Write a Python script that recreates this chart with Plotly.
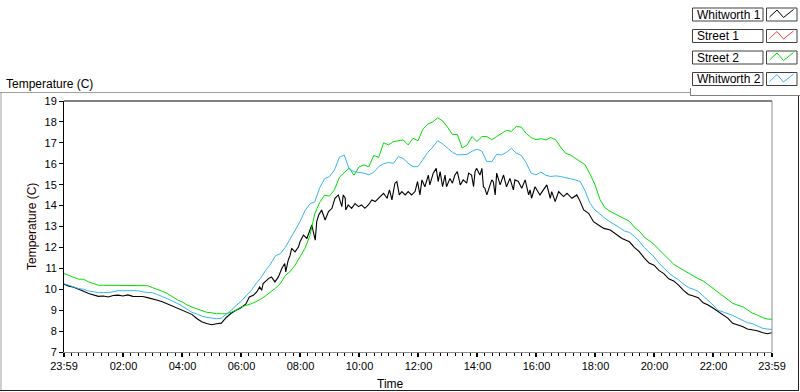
import plotly.graph_objects as go

# ---------------- data ----------------
# common sampling (minutes after 23:59) for the smoother series
TIME_MIN = list(range(0, 1441, 10))

# Whitworth 1 is noisy: read at irregular times
WHITWORTH_1_TIME = [
    0, 10, 20, 30, 40, 50, 60, 70, 80, 90,
    100, 110, 120, 130, 140, 150, 160, 170, 180, 190,
    200, 210, 220, 230, 240, 250, 260, 270, 280, 290,
    300, 310, 320, 330, 340, 350, 360, 370,
    377, 385, 392, 398, 402, 405, 416, 422, 429, 436,
    443, 449, 451, 456, 460, 463, 470, 477, 480, 487,
    494, 504, 511, 514, 518, 524, 531, 538, 545, 551,
    558, 562, 565, 568, 572, 573, 578, 585, 592, 599,
    605, 612, 619, 626, 633, 643, 650, 657, 662, 667,
    673, 677, 682, 687, 694, 700, 707, 714, 719, 724,
    728, 734, 741, 744, 751, 757, 761, 765, 770, 775,
    778, 785, 790, 795, 800, 806, 812, 819, 823, 829,
    833, 836, 839, 846, 850, 853, 856, 860, 870, 873,
    877, 880, 887, 894, 900, 907, 914, 917, 924, 931,
    938, 945, 948, 951, 958, 968, 982, 989, 992, 999,
    1006, 1016, 1023, 1033, 1043, 1050, 1057, 1067, 1077, 1087,
    1098, 1111, 1125, 1135, 1142,
    1150, 1160, 1170, 1180, 1190, 1200, 1210, 1220, 1230, 1240,
    1250, 1260, 1270, 1280, 1290, 1300, 1310, 1320, 1330, 1340,
    1350, 1360, 1370, 1380, 1390, 1400, 1410, 1420, 1430, 1440,
]
WHITWORTH_1 = [
    10.24, 10.15, 10.1, 9.98, 9.9, 9.8, 9.74, 9.66, 9.68, 9.63,
    9.70, 9.72, 9.68, 9.73, 9.66, 9.67, 9.65, 9.6, 9.55, 9.47,
    9.4, 9.3, 9.2, 9.1, 9.02, 8.93, 8.8, 8.6, 8.45, 8.36,
    8.3, 8.35, 8.38, 8.65, 8.85, 9.0, 9.12, 9.3,
    9.63, 9.71, 9.87, 10.11, 9.95, 10.27, 10.51, 10.59, 10.35, 10.59,
    10.99, 11.23, 10.83, 11.39, 11.63, 11.95, 11.79, 12.03, 12.27, 12.59,
    12.43, 13.07, 12.35, 13.23, 13.55, 13.79, 13.31, 13.71, 13.87, 14.35,
    14.51, 14.19, 13.95, 14.51, 14.35, 13.79, 14.03, 13.87, 14.1, 13.95,
    14.03, 13.87, 14.03, 14.27, 14.19, 14.43, 14.59, 14.35, 14.75, 14.27,
    15.07, 15.15, 14.51, 14.67, 14.51, 14.67, 14.51, 14.67, 15.15, 14.51,
    15.23, 14.9, 15.46, 14.99, 15.55, 15.78, 15.15, 15.62, 14.9, 15.46,
    14.9, 15.3, 15.07, 15.46, 15.62, 14.99, 15.23, 15.07, 15.55, 15.46,
    14.9, 15.62, 15.78, 15.46, 15.78, 14.9, 14.83, 14.51, 15.23, 15.15,
    14.51, 15.55, 14.99, 15.46, 14.9, 15.3, 14.75, 15.23, 15.15, 14.83,
    15.23, 14.51, 14.75, 14.35, 14.9, 14.51, 14.99, 14.35, 14.67, 14.19,
    14.67, 14.43, 14.59, 14.35, 14.51, 14.19, 13.79, 13.63, 13.23, 13.07,
    12.91, 12.83, 12.59, 12.43, 12.35,
    12.27, 12.0, 11.8, 11.5, 11.25, 11.15, 10.9, 10.75, 10.5, 10.4,
    10.2, 9.95, 9.75, 9.68, 9.6, 9.35, 9.25, 9.1, 8.95, 8.8,
    8.62, 8.37, 8.3, 8.22, 8.1, 8.05, 8.02, 7.93, 7.87, 7.92,
]

STREET_1_TIME = []
STREET_1 = []   # no visible data in the chart

STREET_2 = [
    10.75, 10.67, 10.56, 10.48, 10.48, 10.35, 10.27, 10.19, 10.19, 10.19,
    10.19, 10.19, 10.19, 10.19, 10.19, 10.19, 10.19, 10.17, 10.08, 10.0,
    9.9, 9.8, 9.65, 9.5, 9.4, 9.25, 9.15, 9.07, 8.98, 8.9,
    8.88, 8.83, 8.83, 8.83, 8.9, 9.0, 9.15, 9.22, 9.3, 9.4,
    9.52, 9.68, 9.85, 10.05, 10.27, 10.65, 10.85, 11.15, 11.55, 11.95,
    12.55, 13.6, 14.15, 14.5, 14.45, 14.75, 15.35, 15.6, 15.8, 15.45,
    15.85, 15.94, 15.86, 16.4, 16.3, 17.0, 16.9, 17.06, 17.1, 17.14,
    16.9, 17.22, 17.1, 17.65, 17.9, 18.0, 18.2, 18.05, 17.75, 17.4,
    17.4, 16.75, 16.9, 17.3, 17.06, 17.3, 17.3, 17.15, 17.3, 17.45,
    17.6, 17.55, 17.78, 17.75, 17.45, 17.25, 17.15, 17.2, 17.14, 17.25,
    17.15, 16.8, 16.5, 16.42, 16.26, 16.1, 15.95, 15.5, 15.0, 14.3,
    13.9, 13.73, 13.6, 13.5, 13.37, 13.25, 12.97, 12.78, 12.5, 12.32,
    12.15, 11.9, 11.65, 11.4, 11.2, 11.05, 10.91, 10.75, 10.63, 10.5,
    10.4, 10.22, 10.08, 9.88, 9.68, 9.5, 9.33, 9.24, 9.17, 9.02,
    8.86, 8.77, 8.65, 8.58, 8.56,
]

WHITWORTH_2 = [
    10.27, 10.2, 10.1, 10.03, 10.0, 9.92, 9.88, 9.84, 9.84, 9.84,
    9.88, 9.93, 9.93, 9.93, 9.93, 9.93, 9.88, 9.84, 9.84, 9.76,
    9.65, 9.55, 9.45, 9.33, 9.2, 9.07, 8.9, 8.82, 8.72, 8.66,
    8.62, 8.59, 8.62, 8.8, 9.0, 9.22, 9.42, 9.68, 9.92, 10.25,
    10.53, 10.9, 11.2, 11.6, 11.7, 12.0, 12.4, 12.8, 13.23, 13.75,
    14.08, 14.18, 14.85, 15.28, 15.39, 15.7, 16.3, 16.42, 15.75, 15.62,
    15.6, 15.55, 15.47, 15.6, 15.86, 16.0, 16.06, 16.02, 16.34, 16.25,
    16.02, 15.86, 15.86, 16.2, 16.55, 16.8, 17.1, 16.95, 16.75, 16.55,
    16.42, 16.45, 16.45, 16.6, 16.7, 16.6, 16.1, 16.1, 16.45, 16.42,
    16.55, 16.74, 16.5, 16.4, 16.05, 15.55, 15.47, 15.6, 15.45, 15.39,
    15.42, 15.39, 15.35, 15.28, 15.23, 15.15, 14.7, 14.1, 13.79, 13.58,
    13.4, 13.23, 13.1, 12.95, 12.78, 12.72, 12.53, 12.3, 12.0, 11.77,
    11.55, 11.25, 11.0, 10.78, 10.6, 10.45, 10.25, 10.08, 10.0, 9.9,
    9.68, 9.47, 9.25, 9.0, 8.92, 8.86, 8.75, 8.63, 8.5, 8.4,
    8.36, 8.25, 8.14, 8.1, 8.08,
]

SERIES_NAMES = ["Whitworth 1", "Street 1", "Street 2", "Whitworth 2"]
SERIES_COLORS = ["#000000", "#ff3c3c", "#00e000", "#38b6f2"]

X_TICK_MINUTES = [0, 121, 241, 361, 481, 601, 721, 841, 961, 1081, 1201, 1321, 1440]
X_TICK_LABELS = ["23:59", "02:00", "04:00", "06:00", "08:00", "10:00", "12:00",
                 "14:00", "16:00", "18:00", "20:00", "22:00", "23:59"]
Y_TICKS = [7, 8, 9, 10, 11, 12, 13, 14, 15, 16, 17, 18, 19]

TITLE = "Temperature (C)"
Y_TITLE = "Temperature (C)"
X_TITLE = "Time"

# ---------------- layout geometry ----------------
W, H = 800, 392
ML, MR, MT, MB = 64, 28, 101, 40
PW, PH = W - ML - MR, H - MT - MB


def px(x):
    return (x - ML) / PW


def py(y):
    return (H - MB - y) / PH


FONT = "Liberation Sans, Arial, sans-serif"

fig = go.Figure()
series = [
    (WHITWORTH_1_TIME, WHITWORTH_1, 1.1),
    (STREET_1_TIME, STREET_1, 1),
    (TIME_MIN, STREET_2, 1),
    (TIME_MIN, WHITWORTH_2, 1),
]
for name, (tt, vals, w), col in zip(SERIES_NAMES, series, SERIES_COLORS):
    fig.add_trace(go.Scatter(
        x=tt, y=vals, mode="lines", name=name,
        line=dict(color=col, width=w), showlegend=False, hoverinfo="skip",
    ))

# minor ticks: 8 subdivisions between consecutive major ticks
minor_vals = []
for a, b in zip(X_TICK_MINUTES[:-1], X_TICK_MINUTES[1:]):
    for k in range(1, 8):
        minor_vals.append(a + (b - a) * k / 8)

shapes = []


def line(x0, y0, x1, y1, color, width=1):
    shapes.append(dict(type="line", xref="paper", yref="paper",
                       x0=px(x0), y0=py(y0), x1=px(x1), y1=py(y1),
                       line=dict(color=color, width=width)))


def rect(x0, y0, x1, y1, color, width=1, fill="white"):
    shapes.append(dict(type="rect", xref="paper", yref="paper",
                       x0=px(x0), y0=py(y0), x1=px(x1), y1=py(y1),
                       line=dict(color=color, width=width), fillcolor=fill))


# plot frame: top black, right gray
line(ML, MT, W - MR, MT, "#000000", 1)
line(W - MR, MT, W - MR, H - MB, "#8c8c8c", 1)

# outer panel frame
line(0, 92.5, 690, 92.5, "#a0a0a0", 1)
line(1, 92.5, 1, 390.5, "#a0a0a0", 1)
line(0, 390.5, 799, 390.5, "#202020", 1)
line(798.5, 95.5, 798.5, 390.5, "#202020", 1)
line(690, 95.5, 800, 95.5, "#808080", 1)
line(690.5, 88, 690.5, 95.5, "#808080", 1)

annotations = []

# legend (LabVIEW-style)
row_tops = [8, 29.5, 51, 72.5]
for name, col, y0 in zip(SERIES_NAMES, SERIES_COLORS, row_tops):
    rect(692.5, y0, 763, y0 + 13, "#404040", 1)
    rect(766.5, y0, 797, y0 + 13, "#404040", 1)
    pts = [(769.5, y0 + 9), (777, y0 + 2), (783.5, y0 + 9.5), (793.5, y0 + 1.5)]
    path = "M " + " L ".join(f"{px(a)},{py(b)}" for a, b in pts)
    shapes.append(dict(type="path", xref="paper", yref="paper", path=path,
                       line=dict(color=col, width=1)))
    annotations.append(dict(x=px(695), y=py(y0 + 6.8), xref="paper", yref="paper",
                            text=name, showarrow=False, xanchor="left", yanchor="middle",
                            font=dict(family=FONT, size=12, color="#000")))

annotations.append(dict(x=px(4), y=py(83.5), xref="paper", yref="paper", text=TITLE,
                        showarrow=False, xanchor="left", yanchor="middle",
                        font=dict(family=FONT, size=12, color="#000")))
annotations.append(dict(x=px(32), y=py(227), xref="paper", yref="paper", text=Y_TITLE,
                        showarrow=False, xanchor="center", yanchor="middle", textangle=-90,
                        font=dict(family=FONT, size=12, color="#1a0000")))
annotations.append(dict(x=px(390), y=py(384), xref="paper", yref="paper", text=X_TITLE,
                        showarrow=False, xanchor="center", yanchor="middle",
                        font=dict(family=FONT, size=12, color="#000")))

fig.update_layout(
    width=W, height=H,
    margin=dict(l=ML, r=MR, t=MT, b=MB, pad=0),
    paper_bgcolor="white", plot_bgcolor="white",
    showlegend=False, hovermode=False,
    shapes=shapes, annotations=annotations,
    xaxis=dict(
        range=[0, 1440], tickmode="array", tickvals=X_TICK_MINUTES, ticktext=X_TICK_LABELS,
        showline=True, linecolor="#8c8c8c", linewidth=1,
        ticks="outside", ticklen=4, tickwidth=2, tickcolor="#000",
        showgrid=False, zeroline=False,
        tickfont=dict(family=FONT, size=11, color="#000"),
        minor=dict(tickmode="array", tickvals=minor_vals, ticks="outside",
                   ticklen=3, tickwidth=1, tickcolor="#000", showgrid=False),
    ),
    yaxis=dict(
        range=[7, 19], tickmode="array", tickvals=Y_TICKS,
        showline=True, linecolor="#000", linewidth=1,
        ticks="outside", ticklen=4, tickwidth=1, tickcolor="#000",
        showgrid=False, zeroline=False,
        tickfont=dict(family=FONT, size=11, color="#000"),
    ),
)

fig.write_html("out.html", config={"displayModeBar": False},
               post_script="document.body.style.margin='0';document.body.style.overflow='hidden';")
